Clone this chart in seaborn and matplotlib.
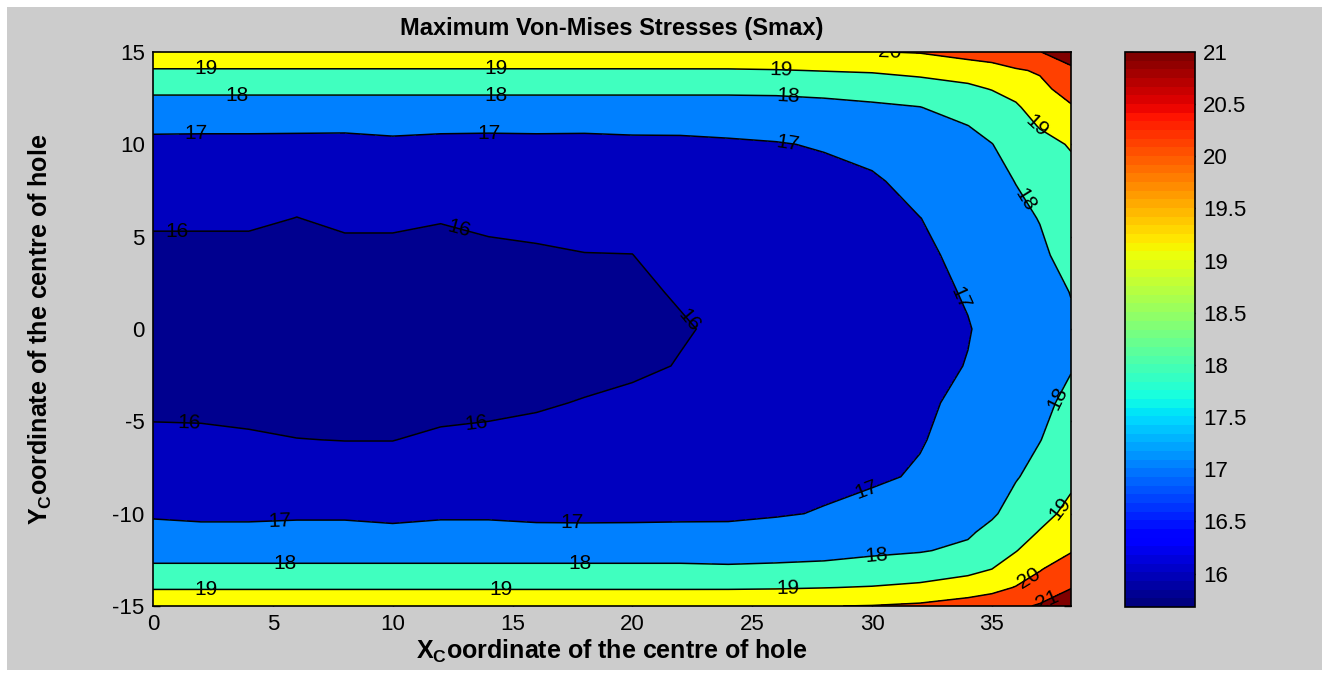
import numpy as np
import matplotlib
matplotlib.use('Agg')
import matplotlib as mpl
import matplotlib.pyplot as plt
from matplotlib.patches import Rectangle
from matplotlib.ticker import FormatStrFormatter
import seaborn as sns

# Grid of the hole-centre positions
X_COORD = [0, 2, 4, 6, 8, 10, 12, 14, 16, 18, 20, 22, 24, 26, 28, 30, 32, 34, 35, 36, 37, 38.3]
Y_COORD = [-15, -14, -13, -12, -11, -10, -8, -6, -4, -2, 0, 2, 4, 6, 8, 10, 11, 12, 13, 14, 15]

# Smax for each x column, from y = -15 (first) up to y = 15 (last)
SMAX_BY_COLUMN = [
    [19.70, 18.92, 18.15, 17.67, 17.30, 16.88, 16.50, 16.17, 15.82, 15.72, 15.69, 15.72, 15.76, 16.13, 16.45, 16.82, 17.15, 17.60, 18.20, 18.93, 19.70],
    [19.70, 18.92, 18.15, 17.67, 17.30, 16.76, 16.50, 16.17, 15.79, 15.72, 15.69, 15.72, 15.76, 16.13, 16.45, 16.80, 17.15, 17.60, 18.20, 18.93, 19.70],
    [19.70, 18.92, 18.15, 17.67, 17.30, 16.76, 16.45, 16.08, 15.80, 15.72, 15.69, 15.72, 15.76, 16.13, 16.45, 16.80, 17.15, 17.60, 18.20, 18.93, 19.70],
    [19.70, 18.92, 18.15, 17.67, 17.30, 16.84, 16.45, 16.01, 15.80, 15.72, 15.69, 15.72, 15.75, 15.99, 16.30, 16.78, 17.15, 17.60, 18.20, 18.93, 19.70],
    [19.70, 18.92, 18.15, 17.67, 17.30, 16.84, 16.30, 15.99, 15.75, 15.70, 15.68, 15.70, 15.805, 16.13, 16.45, 16.76, 17.15, 17.60, 18.20, 18.93, 19.70],
    [19.70, 18.92, 18.15, 17.67, 17.30, 16.66, 16.30, 15.99, 15.75, 15.70, 15.68, 15.70, 15.805, 16.13, 16.45, 16.88, 17.15, 17.60, 18.20, 18.93, 19.70],
    [19.70, 18.92, 18.15, 17.67, 17.30, 16.85, 16.45, 16.10, 15.814, 15.72, 15.70, 15.74, 15.80, 16.035, 16.40, 16.80, 17.15, 17.60, 18.20, 18.93, 19.70],
    [19.70, 18.92, 18.15, 17.67, 17.30, 16.85, 16.50, 16.17, 15.83, 15.74, 15.72, 15.76, 15.87, 16.13, 16.45, 16.77, 17.15, 17.60, 18.20, 18.93, 19.70],
    [19.70, 18.92, 18.15, 17.67, 17.30, 16.72, 16.52, 16.17, 15.94, 15.80, 15.75, 15.80, 15.94, 16.13, 16.47, 16.80, 17.15, 17.60, 18.20, 18.93, 19.70],
    [19.70, 18.92, 18.15, 17.67, 17.30, 16.70, 16.55, 16.25, 16.03, 15.83, 15.78, 15.85, 15.99, 16.13, 16.48, 16.78, 17.15, 17.60, 18.20, 18.93, 19.70],
    [19.70, 18.92, 18.15, 17.67, 17.30, 16.72, 16.58, 16.30, 16.15, 15.877, 15.82, 15.90, 15.995, 16.15, 16.50, 16.85, 17.15, 17.60, 18.20, 18.93, 19.70],
    [19.70, 18.92, 18.15, 17.67, 17.30, 16.76, 16.60, 16.38, 16.25, 16.03, 15.95, 16.05, 16.20, 16.30, 16.50, 16.86, 17.15, 17.60, 18.20, 18.93, 19.72],
    [19.72, 18.92, 18.12, 17.65, 17.20, 16.85, 16.60, 16.35, 16.25, 16.15, 16.10, 16.15, 16.25, 16.35, 16.55, 16.90, 17.20, 17.60, 18.20, 18.93, 19.75],
    [19.85, 18.93, 18.15, 17.70, 17.30, 16.93, 16.70, 16.50, 16.38, 16.30, 16.28, 16.30, 16.38, 16.45, 16.60, 16.95, 17.30, 17.65, 18.20, 18.96, 19.85],
    [19.98, 18.98, 18.20, 17.75, 17.35, 17.05, 16.82, 16.65, 16.52, 16.45, 16.43, 16.45, 16.50, 16.60, 16.75, 17.07, 17.40, 17.75, 18.25, 19.03, 19.93],
    [20.03, 19.05, 18.35, 17.85, 17.60, 17.35, 16.85, 16.78, 16.67, 16.60, 16.58, 16.60, 16.65, 16.75, 16.88, 17.30, 17.60, 17.88, 18.30, 19.10, 19.97],
    [20.15, 19.20, 18.45, 17.95, 17.60, 17.40, 17.10, 16.94, 16.85, 16.75, 16.72, 16.75, 16.85, 16.99, 17.30, 17.50, 17.65, 17.98, 18.55, 19.25, 20.05],
    [20.45, 19.45, 18.75, 18.15, 17.90, 17.82, 17.55, 17.35, 17.20, 17.03, 16.96, 17.07, 17.20, 17.35, 17.55, 17.80, 17.99, 18.40, 18.85, 19.35, 20.45],
    [20.60, 19.70, 19.00, 18.55, 18.20, 17.90, 17.80, 17.60, 17.40, 17.25, 17.20, 17.25, 17.40, 17.55, 17.75, 17.98, 18.30, 18.60, 19.03, 19.55, 20.60],
    [20.80, 20.05, 19.40, 18.97, 18.60, 18.30, 17.95, 17.75, 17.60, 17.45, 17.40, 17.45, 17.60, 17.80, 18.02, 18.40, 18.65, 18.90, 19.25, 19.90, 20.80],
    [21.10, 20.35, 19.95, 19.40, 19.05, 18.70, 18.25, 17.98, 17.85, 17.72, 17.65, 17.70, 17.85, 18.03, 18.35, 18.75, 19.05, 19.35, 19.75, 20.10, 20.98],
    [21.30, 20.98, 20.44, 19.94, 19.55, 19.25, 18.80, 18.40, 18.15, 17.96, 17.90, 18.02, 18.30, 18.50, 18.75, 19.06, 19.50, 19.90, 20.40, 20.85, 21.40],
]

LINE_LEVELS = [16, 17, 18, 19, 20, 21]
FILL_LEVELS = [15.6, 16, 17, 18, 19, 20, 21, 21.5]
CBAR_MIN, CBAR_MAX = 15.68, 21.0
CBAR_TICKS = [16, 16.5, 17, 17.5, 18, 18.5, 19, 19.5, 20, 20.5, 21]

# where the contour labels sit
LABEL_SPOTS = [
    (2.2, 14.1), (14.3, 14.1), (26.2, 14.05),
    (3.5, 12.7), (14.3, 12.7), (26.5, 12.6),
    (1.8, 10.5), (14.0, 10.5), (26.5, 10.1),
    (1.0, 5.3), (12.8, 5.5), (22.4, 0.5), (1.5, -5.05), (13.5, -5.1),
    (33.6, 1.6), (36.4, 7.0), (36.7, 10.8), (30.2, 14.98),
    (37.8, -3.8), (37.8, -9.7), (29.8, -8.8),
    (5.3, -10.45), (17.5, -10.5),
    (5.5, -12.9), (17.8, -12.75), (30.2, -12.4),
    (2.2, -14.15), (14.5, -14.15), (26.5, -14.05),
    (36.6, -13.6), (37.3, -14.7),
]

# MATLAB jet colours taken by each band
FILL_COLORS = ['#00008f', '#0000bf', '#0080ff', '#40ffbf', '#ffff00', '#ff4000', '#800000']

W, H = 1322, 673
GREY = '#cccccc'

sns.set_theme(style='ticks', rc={
    'axes.edgecolor': 'black', 'xtick.color': 'black', 'ytick.color': 'black',
    'text.color': 'black', 'axes.labelcolor': 'black',
})
plt.rcParams['font.family'] = ['Liberation Sans', 'DejaVu Sans']
plt.rcParams['axes.unicode_minus'] = False
plt.rcParams['mathtext.fontset'] = 'custom'
plt.rcParams['mathtext.rm'] = 'Liberation Sans'
plt.rcParams['mathtext.bf'] = 'Liberation Sans:bold'

fig = plt.figure(figsize=(W / 100, H / 100), dpi=100, facecolor='white')
fig.patches.append(Rectangle((7 / W, 3 / H), 1, (H - 10) / H, transform=fig.transFigure,
                             facecolor=GREY, edgecolor='none', zorder=-10))

ax = fig.add_axes([153 / W, 67 / H, 918 / W, 554 / H])
cax = fig.add_axes([1125 / W, 66 / H, 70 / W, 555 / H])

smax = np.array(SMAX_BY_COLUMN).T
ax.contourf(X_COORD, Y_COORD, smax, levels=FILL_LEVELS, colors=FILL_COLORS)
cs = ax.contour(X_COORD, Y_COORD, smax, levels=LINE_LEVELS, colors='black', linewidths=1.1)
ax.clabel(cs, manual=LABEL_SPOTS, inline=False, fontsize=15, fmt='%d', colors='black')

ax.set_xlim(0, 38.3)
ax.set_ylim(-15, 15)
ax.set_xticks([0, 5, 10, 15, 20, 25, 30, 35])
ax.set_yticks([-15, -10, -5, 0, 5, 10, 15])
ax.tick_params(direction='in', top=True, right=True, length=5, width=1, labelsize=16, pad=6)
for s in ax.spines.values():
    s.set_linewidth(1.2)

ax.set_title('Maximum Von-Mises Stresses (Smax)', fontsize=17, fontweight='bold', pad=12)
ax.set_xlabel(r'X$_\mathbf{C}$oordinate of the centre of hole', fontsize=18, fontweight='bold')
ax.set_ylabel(r'Y$_\mathbf{C}$oordinate of the centre of hole', fontsize=18, fontweight='bold')
ax.xaxis.set_label_coords(0.5, -0.058)
ax.yaxis.set_label_coords(-0.108, 0.5)

cmap = mpl.colormaps['jet'].resampled(64)
sm = mpl.cm.ScalarMappable(norm=mpl.colors.Normalize(CBAR_MIN, CBAR_MAX), cmap=cmap)
cb = fig.colorbar(sm, cax=cax, ticks=CBAR_TICKS)
cb.outline.set_linewidth(1.2)
cax.tick_params(direction='in', left=True, right=True, labelleft=False, labelright=True,
                length=6, width=1, labelsize=16, pad=6)
cax.yaxis.set_major_formatter(FormatStrFormatter('%g'))

fig.savefig('out.png', dpi=100, facecolor=fig.get_facecolor())
